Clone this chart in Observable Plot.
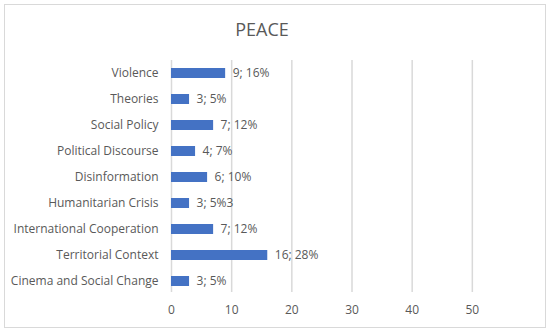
<!DOCTYPE html>
<html>
<head>
<meta charset="utf-8">
<script src="https://cdn.jsdelivr.net/npm/d3@7"></script>
<script src="https://cdn.jsdelivr.net/npm/@observablehq/plot@0.6"></script>
<style>
  html, body { margin: 0; padding: 0; background: #fff; }
  #wrap { position: relative; width: 550px; height: 334px; overflow: hidden; }
  #border { position: absolute; left: 4px; top: 4px; width: 540px; height: 322px; border: 1.5px solid #d9d9d9; box-sizing: content-box; }
  #title { position: absolute; left: 0; width: 524px; top: 17px; text-align: center; font-family: "Open Sans", sans-serif; font-size: 18px; color: #595959; }
  #chart svg { position: absolute; left: 0; top: 0; }
</style>
</head>
<body>
<div id="wrap">
  <div id="border"></div>
  <div id="chart"></div>
  <div id="title">PEACE</div>
</div>
<script>
const categories = ["Violence", "Theories", "Social Policy", "Political Discourse", "Disinformation", "Humanitarian Crisis", "International Cooperation", "Territorial Context", "Cinema and Social Change"];
const counts = [9, 3, 7, 4, 6, 3, 7, 16, 3];
const labels = ["9; 16%", "3; 5%", "7; 12%", "4; 7%", "6; 10%", "3; 5%3", "7; 12%", "16; 28%", "3; 5%"];
const xTicks = [0, 10, 20, 30, 40, 50];

const data = categories.map((c, i) => ({category: c, value: counts[i], label: labels[i]}));

const chart = Plot.plot({
  width: 550,
  height: 334,
  marginLeft: 171,
  marginRight: 18,
  marginTop: 60,
  marginBottom: 40,
  style: {fontFamily: "'Open Sans', sans-serif", fontSize: "12px", color: "#595959", background: "transparent"},
  x: {domain: [0, 60], ticks: xTicks, label: null, tickSize: 0, tickPadding: 11},
  y: {domain: categories, label: null, tickSize: 0, tickPadding: 13, paddingInner: 0.62, paddingOuter: 0.31},
  marks: [
    Plot.gridX(xTicks, {stroke: "#d9d9d9", strokeOpacity: 1, strokeWidth: 1.5, insetBottom: 2}),
    Plot.barX(data, {x: "value", y: "category", fill: "#4472C4"}),
    Plot.text(data, {x: "value", y: "category", text: "label", textAnchor: "start", dx: 7, fill: "#595959", fontSize: 12})
  ]
});
document.getElementById("chart").appendChild(chart);
</script>
</body>
</html>
